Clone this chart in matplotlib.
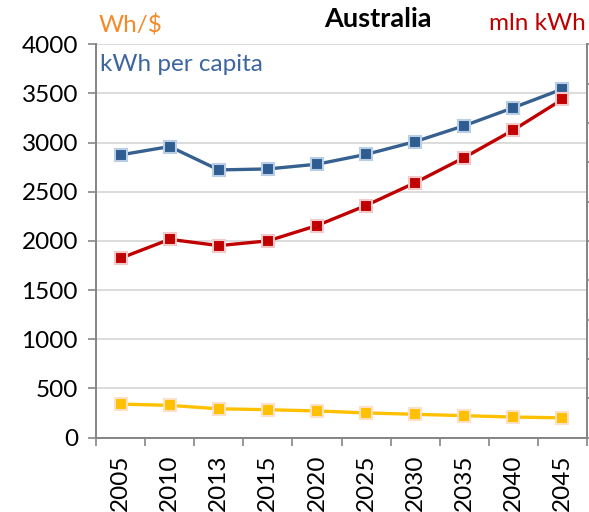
import numpy as np
import matplotlib.pyplot as plt

years = ['2005', '2010', '2013', '2015', '2020', '2025', '2030', '2035', '2040', '2045']
kwh_per_capita = [2875, 2960, 2722, 2732, 2780, 2880, 3010, 3172, 3355, 3545]
mln_kwh = [228000, 252000, 244000, 250000, 269500, 295000, 324000, 356000, 391000, 430000]
wh_per_dollar = [340, 327, 292, 283, 270, 250, 236, 222, 208, 200]

plt.rcParams['font.family'] = ['Lato', 'DejaVu Sans']

fig = plt.figure(figsize=(5.89, 5.12), dpi=100)
ax = fig.add_axes([0.163, 0.1455, 0.8336, 0.768])
ax2 = ax.twinx()

x = np.arange(len(years))
gray = '#868686'

ax.plot(x, kwh_per_capita, color='#36608F', lw=2.4, marker='s', ms=8,
        mfc='#2F5D92', mec='#B9CDE5', mew=1.5, zorder=3)
ax.plot(x, wh_per_dollar, color='#FFC000', lw=2.4, marker='s', ms=8,
        mfc='#FFC000', mec='#FCE0C8', mew=1.5, zorder=3)
ax2.plot(x, mln_kwh, color='#C00000', lw=2.4, marker='s', ms=8,
         mfc='#C00000', mec='#F2C8C8', mew=1.5, zorder=3)

ax.set_ylim(0, 4000)
ax.set_yticks(range(0, 4001, 500))
ax.yaxis.grid(True, color='#D9D9D9', lw=1.3)
ax.set_axisbelow(True)
ax.tick_params(axis='y', labelsize=17.5, length=6, width=1.2, color=gray, pad=7)

ax.set_xlim(-0.5, len(years) - 0.5)
ax.set_xticks(np.arange(-0.5, len(years), 1.0))
ax.set_xticklabels([])
ax.set_xticks(x, minor=True)
ax.set_xticklabels(years, minor=True, rotation=90)
ax.tick_params(axis='x', which='major', length=6, width=1.2, color=gray)
ax.tick_params(axis='x', which='minor', length=0, labelsize=17.5, pad=12)

ax2.set_ylim(0, 500000)
ax2.set_yticks(range(0, 500001, 50000))
ax2.set_yticklabels([])
ax2.tick_params(axis='y', length=2.5, width=1.2, color=gray)

for a in (ax, ax2):
    a.spines['top'].set_visible(False)
    for s in ('left', 'right', 'bottom'):
        a.spines[s].set_color(gray)
        a.spines[s].set_linewidth(1.3)

fig.text(0.642, 0.963, 'Australia', fontsize=19.5, fontweight='bold', ha='center', va='center')
fig.text(0.167, 0.951, 'Wh/$', fontsize=17.5, color='#F58A2A', ha='left', va='center')
fig.text(0.994, 0.955, 'mln kWh', fontsize=17.5, color='#C00000', ha='right', va='center')
ax.text(0.008, 0.975, 'kWh per capita', transform=ax.transAxes, fontsize=17.5,
        color='#3D66A0', ha='left', va='top')

fig.savefig('out.png', dpi=100)
